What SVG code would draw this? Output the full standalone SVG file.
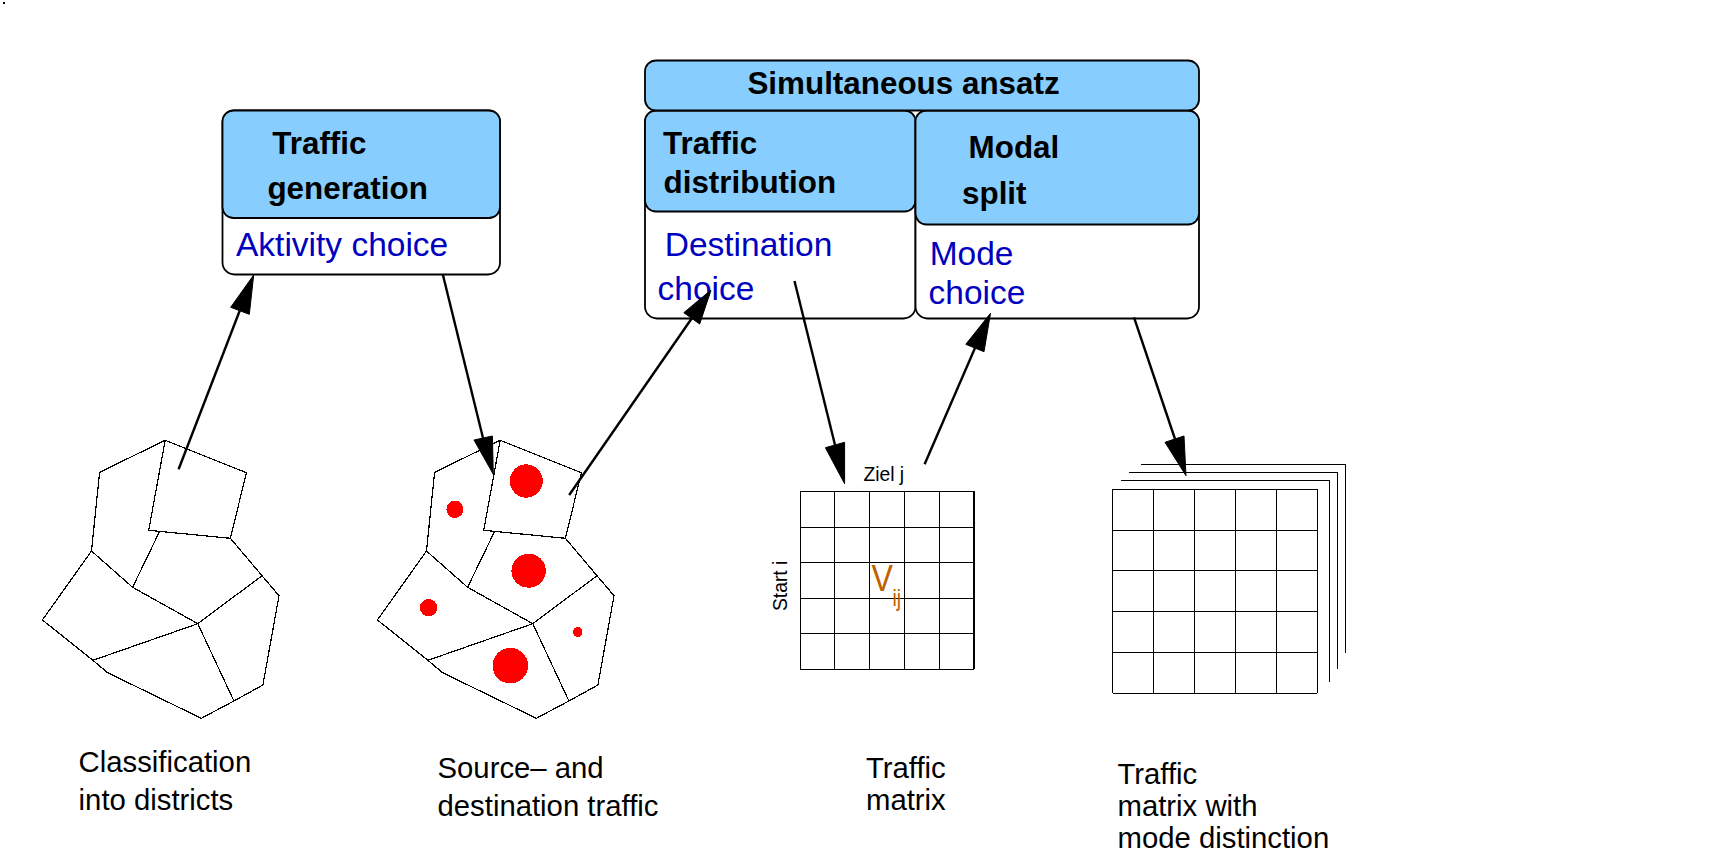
<svg xmlns="http://www.w3.org/2000/svg" width="1718" height="850" viewBox="0 0 1718 850">
<style>
text{font-family:"Liberation Sans",Arial,sans-serif;fill:#000}
.h{font-weight:bold;font-size:31.400px}
.b{font-size:33.500px;fill:#0000c0}
.l{font-size:29.300px}
.s{font-size:19.300px}
.o{fill:#c06000}
.box{fill:#fff;stroke:#000;stroke-width:1.800}
.hd{fill:#87ceff;stroke:#000;stroke-width:1.800}
.m{fill:none;stroke:#000;stroke-width:1.200;stroke-linejoin:miter;shape-rendering:crispEdges}
.g{fill:none;stroke:#000;stroke-width:1.500;shape-rendering:crispEdges}
.d{fill:#f00;shape-rendering:crispEdges}
.a{fill:none;stroke:#000;stroke-width:2.400}
.ah{fill:#000;stroke:#000;stroke-width:1}
</style>
<defs>
<g id="map">
<path class="m" d="M165.200 440.300L246.400 472.700L230.400 538.300L148.700 530.300ZM165.200 440.300L99.600 472.300L91.500 551L42.400 620L92.900 660.300L107.600 672.700L201.300 718.300L233.900 701L262.900 685L279 595.700L262 575.700L230.400 538.300M159.800 531L132.600 587.300M91.500 551L132.600 587.300L197.800 623.700L262 575.700M197.800 623.700L92.900 660.300M197.800 623.700L233.900 701"/>
</g>
</defs>
<rect x="3" y="2" width="2" height="2" fill="#000"/>
<g id="node-traffic-generation">
<rect class="box" x="222.500" y="110.500" width="277.500" height="164" rx="12"/>
<rect class="hd" x="222.500" y="110.500" width="277.500" height="107.500" rx="11"/>
<text class="h" x="272.300" y="154">Traffic</text>
<text class="h" x="267.400" y="199">generation</text>
<text class="b" x="236" y="255.700">Aktivity choice</text>
</g>
<g id="node-traffic-distribution">
<rect class="box" x="645" y="110.500" width="270.500" height="208" rx="12"/>
<rect class="hd" x="645" y="110.500" width="270.500" height="101" rx="11"/>
<text class="h" x="663" y="154.300">Traffic</text>
<text class="h" x="663.500" y="192.700">distribution</text>
<text class="b" x="664.700" y="255.700">Destination</text>
<text class="b" x="657.500" y="299.700">choice</text>
</g>
<g id="node-modal-split">
<rect class="box" x="915.500" y="110.500" width="283.500" height="208" rx="12"/>
<rect class="hd" x="915.500" y="110.500" width="283.500" height="114" rx="11"/>
<text class="h" x="968.600" y="157.700">Modal</text>
<text class="h" x="962" y="204.300">split</text>
<text class="b" x="929.700" y="265">Mode</text>
<text class="b" x="928.600" y="304.300">choice</text>
</g>
<g id="node-simultaneous-ansatz">
<rect class="hd" x="645" y="60.500" width="554" height="50" rx="11"/>
<text class="h" x="747.400" y="93.700">Simultaneous ansatz</text>
</g>
<g id="node-districts">
<use href="#map"/>
<text class="l" x="78.600" y="771.700">Classification</text>
<text class="l" x="78.600" y="810">into districts</text>
</g>
<g id="node-source-destination">
<use href="#map" x="335"/>
<ellipse class="d" cx="526.300" cy="481" rx="16.500" ry="16.700"/>
<ellipse class="d" cx="454.900" cy="509.300" rx="8.500" ry="8.700"/>
<ellipse class="d" cx="528.600" cy="570.700" rx="17.200" ry="17"/>
<ellipse class="d" cx="428.600" cy="607.700" rx="8.700" ry="8.700"/>
<ellipse class="d" cx="577.700" cy="632" rx="4.700" ry="5"/>
<ellipse class="d" cx="510.300" cy="665.700" rx="17.800" ry="17.800"/>
<text class="l" x="437.500" y="778.300">Source– and</text>
<text class="l" x="437.500" y="815.700">destination traffic</text>
</g>
<g id="node-traffic-matrix">
<path class="g" d="M800.400 491.300H974.100M800.400 527.300H974.100M800.400 562.300H974.100M800.400 598.300H974.100M800.400 633.300H974.100M800.400 669.300H974.100M800.400 491.300V669.300M834.400 491.300V669.300M869.600 491.300V669.300M904.500 491.300V669.300M939.700 491.300V669.300M974.100 491.300V669.300"/>
<text class="s" x="863.400" y="481">Ziel j</text>
<text class="s" transform="translate(787 611) rotate(-90)">Start i</text>
<text class="o" x="871.400" y="590.700" font-size="37" textLength="21.400" lengthAdjust="spacingAndGlyphs">V</text>
<text class="o" x="892.400" y="605.700" font-size="24" textLength="8.500" lengthAdjust="spacingAndGlyphs">ij</text>
<text class="l" x="866" y="778.300">Traffic</text>
<text class="l" x="866" y="810">matrix</text>
</g>
<g id="node-mode-matrix">
<path class="g" d="M1112.500 489.300H1317.400M1112.500 530.300H1317.400M1112.500 570.300H1317.400M1112.500 611.300H1317.400M1112.500 652.300H1317.400M1112.500 693.300H1317.400M1112.500 489.300V693.300M1153.600 489.300V693.300M1194.600 489.300V693.300M1235.700 489.300V693.300M1276.300 489.300V693.300M1317.400 489.300V693.300M1121 480.300H1329.500V682M1129 472.300H1337.500V668.700M1141 464.300H1345.500V653"/>
<text class="l" x="1117.500" y="784.300">Traffic</text>
<text class="l" x="1117.500" y="815.700">matrix with</text>
<text class="l" x="1117.500" y="847.700">mode distinction</text>
</g>
<g id="connectors">
<path class="a" d="M178.600 469.300L240 310"/>
<polygon class="ah" points="253.700,275 230.700,307.300 249.300,314.300"/>
<path class="a" d="M442.700 274L483 438"/>
<polygon class="ah" points="493.300,474.300 474,440 492.400,436"/>
<path class="a" d="M569.200 495L692 318"/>
<polygon class="ah" points="711,290 683.800,312.700 699.700,324"/>
<path class="a" d="M794.500 281L835 445"/>
<polygon class="ah" points="844.600,483.700 825.400,447.700 844.600,442.300"/>
<path class="a" d="M924.600 464.300L975 348"/>
<polygon class="ah" points="990.500,313.300 965.800,344.300 984,351.700"/>
<path class="a" d="M1134 317.300L1175 439"/>
<polygon class="ah" points="1186,475.700 1165,442.300 1184,436"/>
</g>
</svg>
